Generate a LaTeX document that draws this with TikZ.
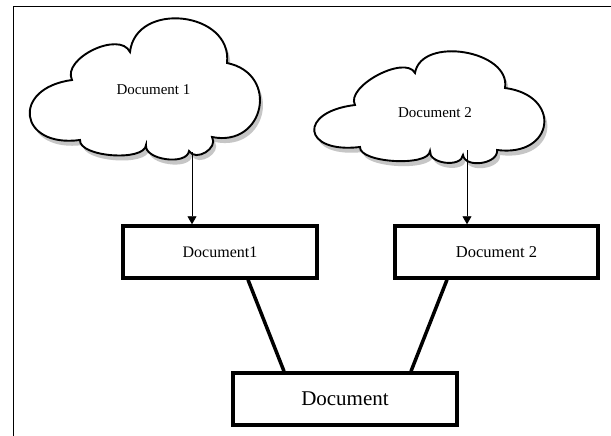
\documentclass[tikz,border=0pt]{standalone}
\usepackage{fontspec}
\setmainfont{Liberation Serif}
\usetikzlibrary{shadows,arrows.meta,calc}
\newcommand{\puff}[3]{.. controls ($(#1)!#3pt!90:(#2)$) and ($(#2)!#3pt!-90:(#1)$) .. (#2)}
\begin{document}
\begin{tikzpicture}[x=1pt,y=-1pt,
  cloudline/.style={draw, line width=1.9pt, fill=white, line join=miter,
     drop shadow={shadow xshift=3pt, shadow yshift=-5pt, fill=gray!45, opacity=1}},
  cloudtext/.style={font=\fontsize{15}{17}\selectfont},
  docbox/.style={draw, line width=3.5pt, fill=white, inner sep=0pt, minimum height=52pt},
  arr/.style={line width=0.8pt, -{Triangle[length=8pt,width=9pt]}},
  link/.style={line width=3.5pt},
  frame/.style={line width=0.9pt}]
\useasboundingbox (0,0) rectangle (611,436);
\fill[white] (0,0) rectangle (611,436);
% frame
\coordinate (ftl) at (13,6);
\coordinate (ftr) at (611,6);
\coordinate (fbl) at (13,436);
\draw[frame] (fbl) -- (ftl) -- (ftr);
% cloud 1
\coordinate (pa) at (72,80);
\coordinate (pb) at (130,52);
\coordinate (pc) at (227,63);
\coordinate (pd) at (212,137);
\coordinate (pe) at (189,151);
\coordinate (pf) at (146,145);
\coordinate (pg) at (80,140);
\path[cloudline] (pa) \puff{pa}{pb}{24} \puff{pb}{pc}{52} \puff{pc}{pd}{54}
   \puff{pd}{pe}{13} \puff{pe}{pf}{15} \puff{pf}{pg}{17} \puff{pg}{pa}{62} -- cycle;
\node[cloudtext] (t1) at (153.5,90) {Document 1};
% cloud 2
\coordinate (qa) at (355,105);
\coordinate (qb) at (415,73);
\coordinate (qc) at (505,88);
\coordinate (qd) at (497,150);
\coordinate (qe) at (463,155);
\coordinate (qf) at (430,151);
\coordinate (qg) at (360,147);
\path[cloudline] (qa) \puff{qa}{qb}{21} \puff{qb}{qc}{38} \puff{qc}{qd}{58}
   \puff{qd}{qe}{14} \puff{qe}{qf}{13} \puff{qf}{qg}{16} \puff{qg}{qa}{58} -- cycle;
\node[cloudtext] (t2) at (435,113) {Document 2};
% boxes
\node[docbox, minimum width=194pt, font=\fontsize{16}{18}\selectfont] (b1) at (220,252) {Document1};
\node[docbox, minimum width=203pt, font=\fontsize{16.5}{18}\selectfont] (b2) at (496.5,252) {Document 2};
\node[docbox, minimum width=224pt, font=\fontsize{21}{23}\selectfont] (b3) at (345,399) {Document};
% arrows
\coordinate (a1s) at (192,152);
\coordinate (a2s) at (467,150);
\draw[arr] (a1s) -- (a1s |- b1.north);
\draw[arr] (a2s) -- (a2s |- b2.north);
% links
\draw[link] (b1.south -| 248,0) -- (b3.north -| 284,0);
\draw[link] (b2.south -| 447,0) -- (b3.north -| 411,0);
\end{tikzpicture}
\end{document}
